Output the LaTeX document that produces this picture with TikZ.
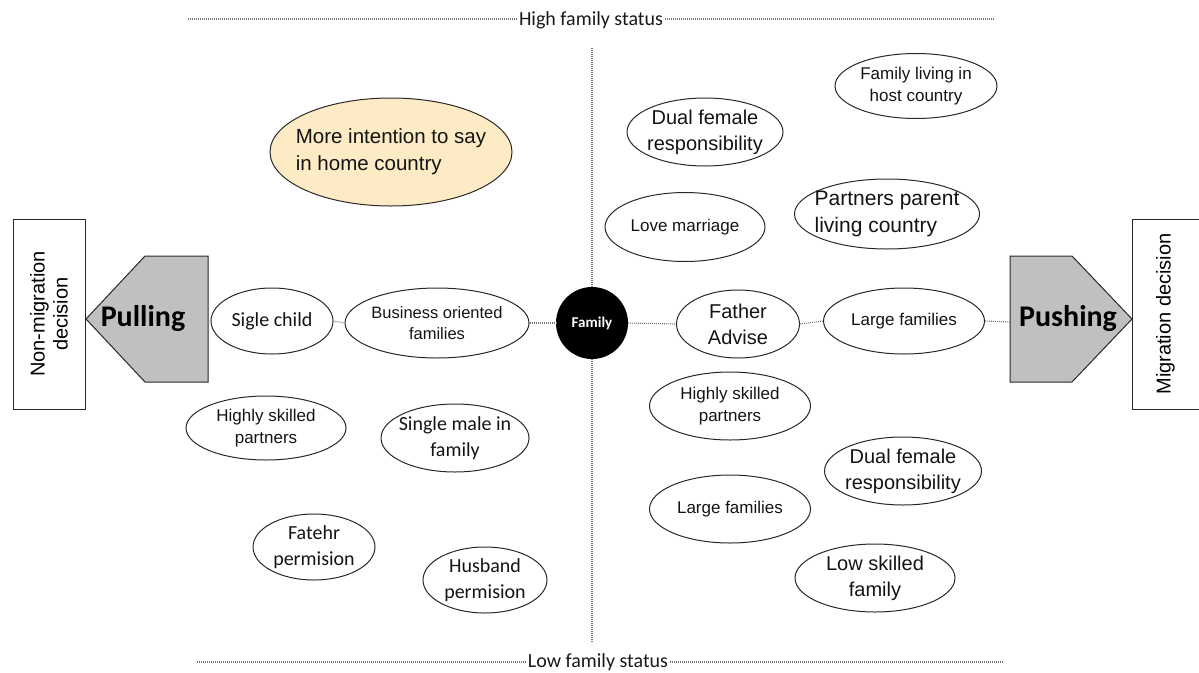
\documentclass[tikz,border=0pt]{standalone}
\usepackage{fontspec}
\setmainfont{Liberation Sans}
\newfontfamily\calfont{Carlito}
\usetikzlibrary{shapes.geometric}
\newcommand\fsz[2]{\fontsize{#1}{#2}\selectfont}
\definecolor{arrowgray}{RGB}{192,192,192}
\definecolor{paleyellow}{RGB}{252,235,196}
\definecolor{inkgray}{RGB}{40,40,40}
\tikzset{
  bub/.style={ellipse, draw=inkgray, line width=1pt, inner xsep=-40pt, inner ysep=-20pt, align=center, text=black!92},
  small/.style={font=\fsz{17}{22}},
  large/.style={font=\fsz{20}{26}},
  calib/.style={font=\calfont\fsz{20}{26}},
  dotline/.style={draw=black!55, line width=1.1pt, dash pattern=on 1pt off 1pt},
  status/.style={font=\calfont\fsz{20}{24}, inner sep=1.5pt, text=black!90},
  decbox/.style={draw=inkgray, line width=1pt, fill=white, inner sep=0pt, align=center, font=\fsz{20}{23}},
  arrowshape/.style={draw=inkgray, line width=1pt, fill=arrowgray},
  arrowlabel/.style={font=\calfont\bfseries\fsz{30}{34}, inner sep=0pt}
}
\begin{document}
\begin{tikzpicture}[x=1pt,y=-1pt]
\useasboundingbox (0,0) rectangle (1199,672);

% status axis (top and bottom)
\node[status, anchor=base] (hi) at (591,25) {High family status};
\coordinate (hiL) at (188,19);
\coordinate (hiR) at (993,19);
\draw[dotline] (hiL) -- (hiL -| hi.west);
\draw[dotline] (hiR -| hi.east) -- (hiR);

\node[status, anchor=base] (lo) at (598,667) {Low family status};
\coordinate (loL) at (197,662);
\coordinate (loR) at (1003,662);
\draw[dotline] (loL) -- (loL -| lo.west);
\draw[dotline] (loR -| lo.east) -- (loR);

% decision boxes
\node[decbox, minimum width=190pt, minimum height=72pt, rotate=90] (nonmig) at (49,314) {Non-migration\\decision};
\node[decbox, minimum width=190pt, minimum height=67pt, rotate=90] (mig) at (1165.5,314) {Migration decision};

% pulling / pushing arrows
\draw[arrowshape] (86,319) -- (145,256) -- (208,256) -- (208,382) -- (145,382) -- cycle;
\node[arrowlabel] (pull) at (143,319) {Pulling};
\coordinate (pullR) at (208,322);

\draw[arrowshape] (1010,256) -- (1072,256) -- (1132,319) -- (1072,382) -- (1010,382) -- cycle;
\node[arrowlabel] (push) at (1068,319) {Pushing};
\coordinate (pushL) at (1010,322);

% centre
\node[circle, fill=black, minimum size=72pt, inner sep=0pt, text=white,
      font=\calfont\bfseries\fsz{15}{18}] (fam) at (592,323) {Family};
\coordinate (vt) at (592,48);
\coordinate (vb) at (592,643);

% left side factors
\node[bub, minimum width=122pt, minimum height=66pt, calib] (sigle) at (272,321) {Sigle child};
\node[bub, minimum width=184pt, minimum height=70pt, font=\fsz{16.5}{21.5}] (biz) at (437,323) {Business oriented\\families};
\node[bub, minimum width=160pt, minimum height=64pt, small] (hsL) at (266,428) {Highly skilled\\partners};
\node[bub, minimum width=148pt, minimum height=68pt, calib] (single) at (455,438) {Single male in\\family};
\node[bub, minimum width=122pt, minimum height=66pt, calib] (fatehr) at (314,547) {Fatehr\\permision};
\node[bub, minimum width=124pt, minimum height=66pt, calib] (husband) at (485,580) {Husband\\permision};
\node[bub, fill=paleyellow, minimum width=242pt, minimum height=108pt, align=left, font=\fsz{20.5}{27}] (more) at (391,152) {More intention to say\\in home country};

% right side factors
\node[bub, minimum width=162pt, minimum height=65pt, small] (host) at (916,86) {Family living in\\host country};
\node[bub, minimum width=156pt, minimum height=68pt, large] (dualT) at (705,132) {Dual female\\responsibility};
\node[bub, minimum width=160pt, minimum height=69pt, small] (love) at (685,227) {Love marriage};
\node[bub, minimum width=185pt, minimum height=70pt, align=left, font=\fsz{21}{27}] (partners) at (887,214) {Partners parent\\living country};
\node[bub, minimum width=123pt, minimum height=68pt, large] (father) at (738,324) {Father\\Advise};
\node[bub, minimum width=161pt, minimum height=66pt, small] (largeR) at (904,321) {Large families};
\node[bub, minimum width=161pt, minimum height=68pt, small] (hsR) at (730,406) {Highly skilled\\partners};
\node[bub, minimum width=157pt, minimum height=68pt, large] (dualB) at (903,471) {Dual female\\responsibility};
\node[bub, minimum width=161pt, minimum height=68pt, small] (largeB) at (730,509) {Large families};
\node[bub, minimum width=160pt, minimum height=68pt, large] (low) at (875,578) {Low skilled\\family};

% dotted axes through the centre
\draw[dotline] (vt) -- (fam.north);
\draw[dotline] (fam.south) -- (vb);
\draw[dotline] (pullR) -- (sigle.west);
\draw[dotline] (sigle.east) -- (biz.west);
\draw[dotline] (biz.east) -- (fam.west);
\draw[dotline] (fam.east) -- (father.west);
\draw[dotline] (father.east) -- (largeR.west);
\draw[dotline] (largeR.east) -- (pushL);
\end{tikzpicture}
\end{document}
